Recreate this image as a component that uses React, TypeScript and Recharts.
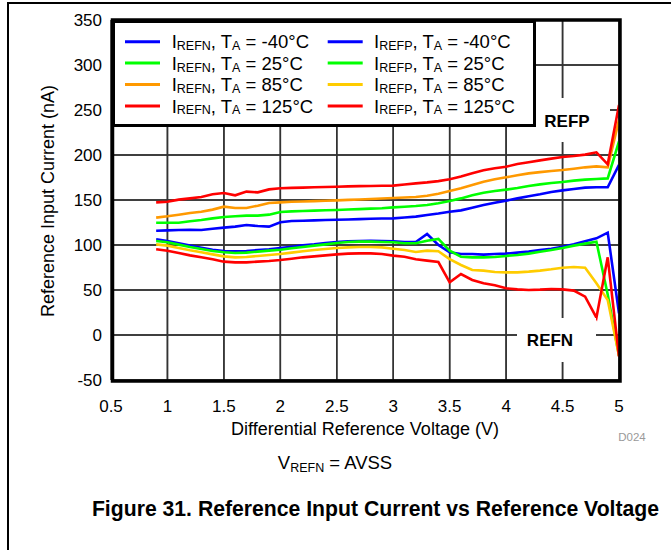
import React from 'react';
import { LineChart, Line, XAxis, YAxis, CartesianGrid } from 'recharts';

const FONT = '"Liberation Sans", Arial, Helvetica, sans-serif';

// Differential reference voltage (V)
const voltage = [
  0.9, 1.0, 1.1, 1.2, 1.3, 1.4, 1.5, 1.6, 1.7, 1.8, 1.9, 2.0, 2.1, 2.2, 2.3, 2.4, 2.5, 2.6, 2.7, 2.8, 2.9,
  3.0, 3.1, 3.2, 3.3, 3.4, 3.5, 3.6, 3.7, 3.8, 3.9, 4.0, 4.1, 4.2, 4.3, 4.4, 4.5, 4.6, 4.7, 4.8, 4.9, 5.0,
];

// Upper group (legend: IREFN)
const refnM40 = [
  115.9, 116.3, 116.7, 117, 116.7, 118.1, 119.3, 120.4, 122.2, 121.1, 120.4, 125.2, 126.7, 127, 127.4, 127.8,
  128.1, 128.4, 128.7, 129.1, 129.4, 129.6, 130.5, 131.5, 133.3, 135, 137, 138.5, 141.5, 144.4, 147, 149.3,
  151.8, 154.1, 156.3, 158.9, 160.7, 162.2, 163.7, 164.1, 164.1, 189,
];
const refn25 = [
  124.8, 124.8, 124.8, 126.3, 127.8, 129.6, 131.1, 131.9, 132.6, 132.6, 133.7, 136.7, 137.4, 137.8, 138.2,
  138.6, 138.9, 139.4, 139.9, 140.4, 140.9, 141.8, 142.5, 143.3, 144.4, 146.3, 148.9, 151.8, 155.2, 158.1,
  160, 161.5, 163.3, 165.5, 167.4, 168.9, 170, 171.5, 172.6, 173.3, 174, 215,
];
const refn85 = [
  130.4, 131.9, 133.7, 135.6, 137, 139.3, 142.6, 141.1, 141.1, 143.7, 146.7, 147.4, 148, 148.4, 148.8, 149.2,
  149.6, 150.1, 150.6, 151.1, 151.6, 152.2, 152.7, 153.3, 154.8, 157, 160, 163, 166.7, 170.4, 173, 175.2,
  177.4, 179.6, 181, 182.2, 183.3, 184.8, 186.3, 187.4, 186.3, 239,
];
const refn125 = [
  147.4, 148, 150.4, 151.8, 153.3, 156.3, 157.8, 155.2, 159.3, 158.5, 161.8, 163, 163.5, 163.8, 164.1, 164.5,
  164.8, 165.1, 165.4, 165.6, 165.8, 166, 167.2, 168.5, 169.6, 171, 173, 176, 179.6, 183, 185.2, 187, 190,
  191.9, 194, 196, 197.8, 198.9, 200.4, 203, 189.6, 255.6,
];

// Lower group (legend: IREFP)
const refpM40 = [
  106.3, 104.4, 101.9, 99.3, 97, 94.8, 93.3, 93, 93.3, 94.4, 95.2, 96.7, 98.1, 99.6, 100.7, 102.2, 103.3,
  104.1, 104.4, 104.8, 104.4, 104.1, 103.3, 103.3, 112.2, 100, 91.9, 90, 90, 89.3, 90, 90.4, 91.5, 92.6, 94.4,
  95.9, 98.1, 100.7, 104.1, 107.4, 113.7, 24,
];
const refp25 = [
  104.4, 103, 100.4, 97.8, 95.6, 93.3, 91.9, 91.1, 91.5, 92.6, 93.7, 94.8, 96.3, 97.8, 99.3, 100.7, 102.2,
  103.3, 103.7, 103.7, 103.3, 103, 101.9, 101.9, 104.8, 106.7, 93.7, 87, 86.3, 86.3, 86.7, 87.8, 88.9, 90.4,
  92.6, 94.4, 96.7, 99.3, 101.5, 103.7, 45, -23,
];
const refp85 = [
  100.7, 99.3, 96.7, 94.1, 91.9, 89.6, 87.4, 86.3, 86.7, 87.8, 88.9, 90, 91.5, 93, 94.4, 95.6, 96.7, 97.4,
  97.8, 97.8, 97.4, 95.9, 94.4, 92.2, 93.7, 93, 84.4, 77.8, 72.2, 71.5, 70, 69.6, 69.6, 70.4, 71.5, 73, 74.8,
  75.6, 74.8, 57.4, 38.9, -23,
];
const refp125 = [
  95.2, 93.7, 91.1, 88.5, 86.3, 84.1, 81.5, 80.7, 80.7, 81.5, 82.2, 83.3, 84.8, 86.3, 87.4, 88.5, 89.6, 90.4,
  90.7, 90.7, 90, 88.2, 87, 84.1, 82.6, 81.1, 58.5, 67.8, 61.1, 57.4, 55.2, 51.9, 50.7, 50, 50.4, 51.1, 50.7,
  49.3, 42.6, 19.3, 86.3, -24,
];

const xTicks = [0.5, 1, 1.5, 2, 2.5, 3, 3.5, 4, 4.5, 5];
const yTicks = [-50, 0, 50, 100, 150, 200, 250, 300, 350];
const temps = ['-40°C', '25°C', '85°C', '125°C'];

const series = [
  { key: 'refnM40', sub: 'REFN', temp: temps[0], color: '#0000FF', values: refnM40 },
  { key: 'refn25', sub: 'REFN', temp: temps[1], color: '#00FF00', values: refn25 },
  { key: 'refn85', sub: 'REFN', temp: temps[2], color: '#FF9900', values: refn85 },
  { key: 'refn125', sub: 'REFN', temp: temps[3], color: '#FF0000', values: refn125 },
  { key: 'refpM40', sub: 'REFP', temp: temps[0], color: '#0000FF', values: refpM40 },
  { key: 'refp25', sub: 'REFP', temp: temps[1], color: '#00FF00', values: refp25 },
  { key: 'refp85', sub: 'REFP', temp: temps[2], color: '#FFCC00', values: refp85 },
  { key: 'refp125', sub: 'REFP', temp: temps[3], color: '#FF0000', values: refp125 },
];

const data = voltage.map((v, i) => {
  const row: Record<string, number> = { v };
  series.forEach((s) => {
    row[s.key] = s.values[i];
  });
  return row;
});

// plot-area geometry (matches the chart margins + axis sizes below)
const PLOT = { left: 111, top: 20, width: 508, height: 360 };
const xMin = xTicks[0];
const xMax = xTicks[xTicks.length - 1];
const yMin = yTicks[0];
const yMax = yTicks[yTicks.length - 1];
const gx = (t: number) => PLOT.left + ((t - xMin) / (xMax - xMin)) * PLOT.width;
const gy = (t: number) => PLOT.top + ((yMax - t) / (yMax - yMin)) * PLOT.height;
const GRID = '#333';

const LegendBox = () => {
  const rowY = [18.7, 40.1, 61.5, 82.9];
  return (
    <div
      style={{
        width: 424,
        height: 107,
        boxSizing: 'border-box',
        border: '3px solid #000',
        background: '#fff',
      }}
    >
      <svg width={418} height={101} style={{ display: 'block' }}>
        {series.map((s, i) => {
          const col = i < 4 ? 0 : 1;
          const row = i % 4;
          const lx = col === 0 ? 10 : 212.7;
          const tx = col === 0 ? 56.7 : 259;
          const y = rowY[row];
          return (
            <g key={s.key}>
              <line x1={lx} x2={lx + 35} y1={y} y2={y} stroke={s.color} strokeWidth={3} />
              <text x={tx} y={y + 6.6} fontSize={18.5} fontFamily={FONT} fill="#000">
                I
                <tspan fontSize={12.5} dy={1.8}>
                  {s.sub}
                </tspan>
                <tspan dy={-1.8}>{', T'}</tspan>
                <tspan fontSize={12.5} dy={1.8}>
                  A
                </tspan>
                <tspan dy={-1.8}>{' = ' + s.temp}</tspan>
              </text>
            </g>
          );
        })}
      </svg>
    </div>
  );
};

const YTitle = () => (
  <text
    x={48}
    y={201}
    transform="rotate(-90 48 201)"
    textAnchor="middle"
    dominantBaseline="central"
    fontSize={18}
    fontFamily={FONT}
    fill="#000"
  >
    Reference Input Current (nA)
  </text>
);

const XTitle = () => (
  <text x={365} y={434.5} textAnchor="middle" fontSize={18} fontFamily={FONT} fill="#000">
    Differential Reference Voltage (V)
  </text>
);

export default function App() {
  return (
    <div style={{ position: 'absolute', left: 0, top: 0, width: 671, height: 550, background: '#fff' }}>
      <div style={{ position: 'absolute', left: 7, top: 3, width: 2, height: 547, background: '#000' }} />
      <div style={{ position: 'absolute', left: 7, top: 2, width: 664, height: 1.5, background: '#000' }} />
      <svg width={671} height={550} style={{ position: 'absolute', left: 0, top: 0 }}>
        {xTicks.slice(1, -1).map((t) => (
          <line key={'vx' + t} x1={gx(t)} x2={gx(t)} y1={PLOT.top} y2={PLOT.top + PLOT.height} stroke={GRID} strokeWidth={1.5} />
        ))}
        {yTicks.slice(1, -1).map((t) => (
          <line key={'hy' + t} x1={PLOT.left} x2={PLOT.left + PLOT.width} y1={gy(t)} y2={gy(t)} stroke={GRID} strokeWidth={1.5} />
        ))}
      </svg>
      <div style={{ position: 'absolute', left: 0, top: 0 }}>
        <LineChart
          width={671}
          height={550}
          data={data}
          margin={{ top: 20, right: 52, bottom: 140, left: 51 }}
        >
          <CartesianGrid stroke={GRID} strokeWidth={1.5} fill="none" />
          <XAxis
            dataKey="v"
            type="number"
            domain={[xMin, xMax]}
            ticks={xTicks}
            height={30}
            axisLine={false}
            tickLine={false}
            tickSize={0}
            tickMargin={20}
            tick={{ fill: '#000', fontSize: 17, fontFamily: FONT }}
            interval={0}
            label={<XTitle />}
          />
          <YAxis
            type="number"
            domain={[yMin, yMax]}
            ticks={yTicks}
            width={60}
            axisLine={false}
            tickLine={false}
            tickSize={0}
            tickMargin={9}
            tick={{ fill: '#000', fontSize: 17, fontFamily: FONT }}
            interval={0}
            label={<YTitle />}
          />
          {series.map((s) => (
            <Line
              key={s.key}
              dataKey={s.key}
              stroke={s.color}
              strokeWidth={2.6}
              dot={false}
              activeDot={false}
              isAnimationActive={false}
              legendType="line"
            />
          ))}
        </LineChart>
      </div>
      <svg
        width={671}
        height={550}
        style={{ position: 'absolute', left: 0, top: 0, pointerEvents: 'none' }}
      >
        <rect
          x={PLOT.left + 1.5}
          y={PLOT.top}
          width={PLOT.width - 0.5}
          height={PLOT.height + 1}
          fill="none"
          stroke="#000"
          strokeWidth={3.5}
        />
        <rect x={536} y={98} width={74} height={44} fill="#fff" />
        <text x={567} y={126.8} textAnchor="middle" fontSize={17} fontWeight="bold" fontFamily={FONT} fill="#000">
          REFP
        </text>
        <rect x={517} y={318} width={79} height={44} fill="#fff" />
        <text x={550} y={346.1} textAnchor="middle" fontSize={17} fontWeight="bold" fontFamily={FONT} fill="#000">
          REFN
        </text>
        <text x={632} y={440.5} textAnchor="middle" fontSize={11.5} fontFamily={FONT} fill="#9a9a9a">
          D024
        </text>
        <text x={335} y={469} textAnchor="middle" fontSize={18.5} fontFamily={FONT} fill="#000">
          V
          <tspan fontSize={12.5} dy={3}>
            REFN
          </tspan>
          <tspan dy={-3}>{' = AVSS'}</tspan>
        </text>
        <text x={375.5} y={515.5} textAnchor="middle" fontSize={21.2} fontWeight="bold" fontFamily={FONT} fill="#000">
          Figure 31. Reference Input Current vs Reference Voltage
        </text>
      </svg>
      <div style={{ position: 'absolute', left: 112, top: 20 }}>
        <LegendBox />
      </div>
    </div>
  );
}
